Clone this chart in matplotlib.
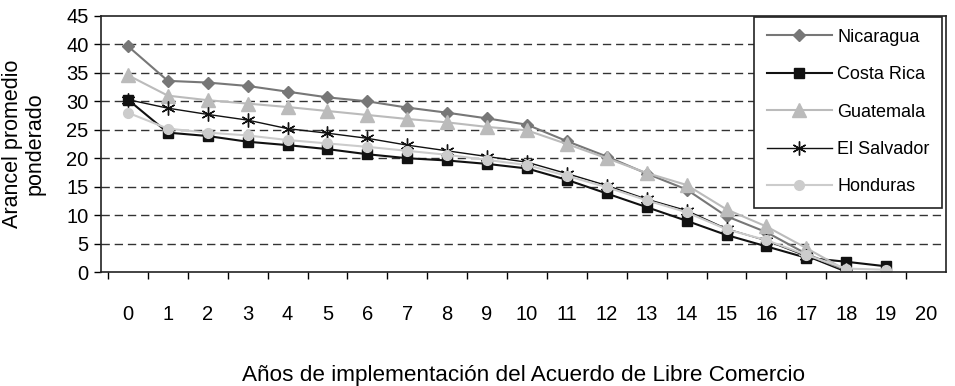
import matplotlib
matplotlib.use("Agg")
import matplotlib.pyplot as plt
from matplotlib.ticker import FixedLocator, NullFormatter

plt.rcParams['font.family'] = ['Liberation Sans', 'DejaVu Sans']

years = list(range(21))
nicaragua = [39.7, 33.6, 33.3, 32.7, 31.7, 30.7, 30.0, 28.9, 28.0, 27.0,
             25.9, 23.0, 20.3, 17.3, 14.5, 9.8, 7.0, 3.2, 0.3]
costa_rica = [30.3, 24.5, 23.9, 22.9, 22.3, 21.6, 20.7, 20.0, 19.6, 19.0,
              18.2, 16.2, 13.8, 11.4, 9.0, 6.5, 4.5, 2.5, 1.8, 1.0]
guatemala = [34.6, 31.0, 30.2, 29.6, 29.0, 28.3, 27.6, 26.9, 26.3, 25.5,
             24.9, 22.5, 20.0, 17.4, 15.3, 11.0, 8.0, 4.2, 0.3]
el_salvador = [30.3, 28.8, 27.7, 26.7, 25.2, 24.4, 23.5, 22.3, 21.3, 20.3,
               19.3, 17.3, 15.2, 12.8, 10.8, 7.6, 5.5, 2.8, 0.0]
honduras = [28.0, 25.2, 24.5, 24.0, 23.2, 22.6, 22.0, 21.3, 20.6, 19.7,
            18.8, 16.9, 14.9, 12.6, 10.5, 7.5, 5.6, 3.0, 0.6, 0.4]
y_ticks = list(range(0, 46, 5))

fig = plt.figure(figsize=(9.55, 3.86), dpi=100)
ax = fig.add_axes([101 / 955, 1 - 272 / 386, 845 / 955, 256 / 386])

series = [
    ("Nicaragua", nicaragua, dict(color="#777777", marker="D", ms=6, lw=1.5)),
    ("Costa Rica", costa_rica, dict(color="#111111", marker="s", ms=6.5, lw=1.5)),
    ("Guatemala", guatemala, dict(color="#bbbbbb", marker="^", ms=10, lw=1.5)),
    ("El Salvador", el_salvador, dict(color="#111111", marker=(6, 2, 0), ms=10,
                                      mew=1.0, lw=1.0)),
    ("Honduras", honduras, dict(color="#cccccc", marker="o", ms=7, lw=1.5)),
]
for name, vals, style in series:
    ax.plot(years[:len(vals)], vals, label=name, **style)

ax.set_ylim(0, 45)
ax.set_xlim(-0.675, 20.5)
ax.set_yticks(y_ticks)
ax.tick_params(axis="y", length=5, width=1, pad=4, labelsize=14.5)
for v in y_ticks[1:-1]:
    ax.axhline(v, color="#333333", lw=1, ls=(0, (6, 3.5)), zorder=0)

# category boundaries get tick marks, category centres get the labels
ax.xaxis.set_major_locator(FixedLocator([i - 0.5 for i in range(21)]))
ax.xaxis.set_major_formatter(NullFormatter())
ax.xaxis.set_minor_locator(FixedLocator(years))
ax.set_xticklabels([str(y) for y in years], minor=True)
ax.tick_params(axis="x", which="major", length=5, width=1)
ax.tick_params(axis="x", which="minor", length=0, pad=23.5, labelsize=14.5)

for sp in ax.spines.values():
    sp.set_linewidth(1.2)
    sp.set_color("#222222")

ax.set_ylabel("Arancel promedio\nponderado", fontsize=15.5, linespacing=1.05)
ax.yaxis.set_label_coords(-0.066, 0.5)
ax.set_xlabel("Años de implementación del Acuerdo de Libre Comercio",
              fontsize=16.2, labelpad=29.5)

leg = ax.legend(loc="upper right", bbox_to_anchor=(0.995, 0.998),
                borderaxespad=0, fancybox=False, framealpha=1,
                edgecolor="#222222", fontsize=13, handlelength=3.6,
                labelspacing=1.13, borderpad=0.68, handletextpad=0.3)
leg.get_frame().set_linewidth(1.2)

fig.savefig("out.png", dpi=100)
